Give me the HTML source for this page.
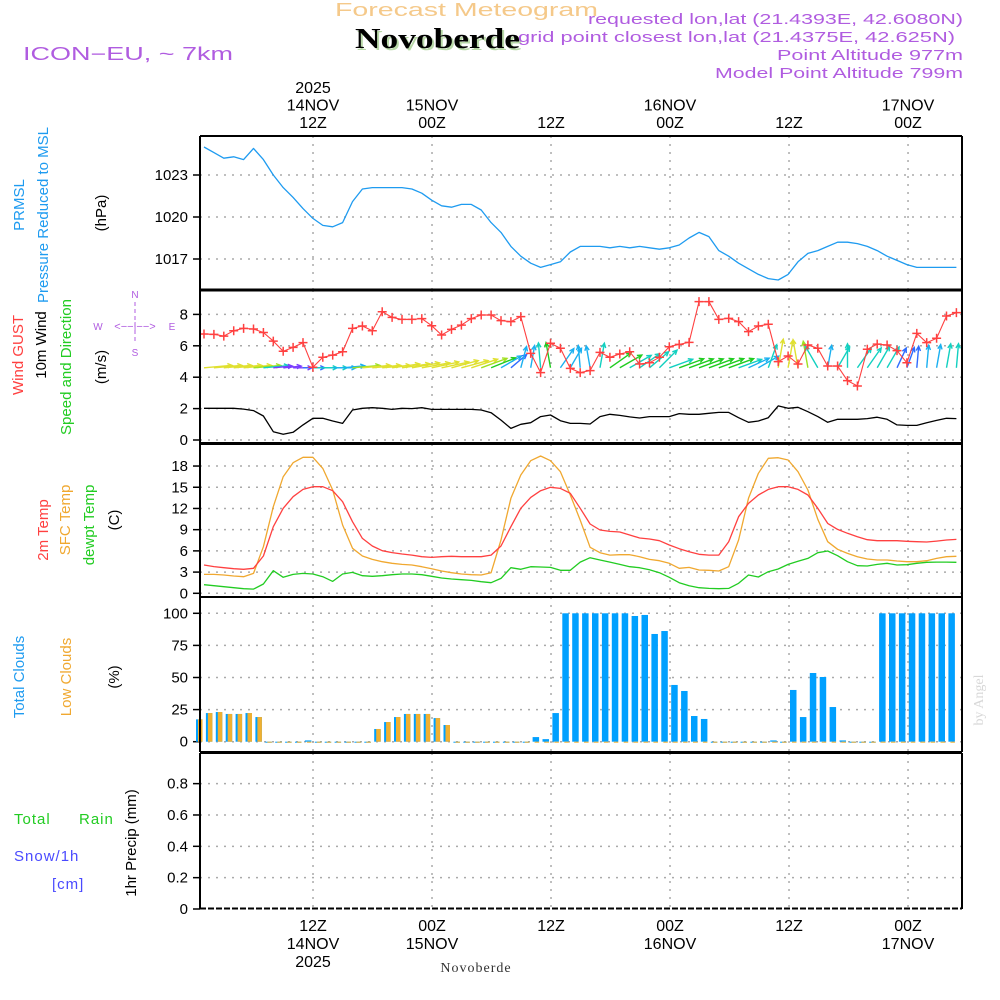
<!DOCTYPE html>
<html><head><meta charset="utf-8"><style>
html,body{margin:0;padding:0;background:#fff;}
svg{display:block;font-family:"Liberation Sans",sans-serif;}
</style></head><body>
<svg id="chart" width="1000" height="1000" viewBox="0 0 1000 1000" xmlns="http://www.w3.org/2000/svg">
<text x="335" y="16" textLength="263" lengthAdjust="spacingAndGlyphs" font-size="18" fill="#f5c98a">Forecast Meteogram</text>
<text x="357" y="50" textLength="165" lengthAdjust="spacingAndGlyphs" font-size="28" font-weight="bold" font-family="Liberation Serif,serif" fill="#b8d8a8">Novoberde</text>
<text x="355" y="48" textLength="165" lengthAdjust="spacingAndGlyphs" font-size="28" font-weight="bold" font-family="Liberation Serif,serif" fill="#000">Novoberde</text>
<g fill="#b05ce0" font-size="15">
<text x="588" y="24" textLength="375" lengthAdjust="spacingAndGlyphs">requested lon,lat (21.4393E, 42.6080N)</text>
<text x="518" y="42" textLength="437" lengthAdjust="spacingAndGlyphs">grid point closest lon,lat (21.4375E, 42.625N)</text>
<text x="777" y="60" textLength="186" lengthAdjust="spacingAndGlyphs">Point Altitude 977m</text>
<text x="715" y="78" textLength="248" lengthAdjust="spacingAndGlyphs">Model Point Altitude 799m</text>
</g>
<text x="23" y="60" textLength="210" lengthAdjust="spacingAndGlyphs" font-size="18" fill="#b05ce0">ICON−EU, ~ 7km</text>
<text transform="translate(983,700) rotate(-90)" text-anchor="middle" font-size="14" font-family="Liberation Serif,serif" fill="#d8d8d8">by Angel</text>
<text x="476" y="972" text-anchor="middle" font-size="14" font-family="Liberation Serif,serif" fill="#333" letter-spacing="1">Novoberde</text>

<g font-size="15">
<text transform="translate(24,205) rotate(-90)" text-anchor="middle" fill="#1e9bf0">PRMSL</text>
<text transform="translate(48,215) rotate(-90)" text-anchor="middle" fill="#1e9bf0">Pressure Reduced to MSL</text>
<text transform="translate(106,213) rotate(-90)" text-anchor="middle" fill="#000">(hPa)</text>
<text transform="translate(23,355) rotate(-90)" text-anchor="middle" fill="#ff4040">Wind GUST</text>
<text transform="translate(46,345) rotate(-90)" text-anchor="middle" fill="#000">10m Wind</text>
<text transform="translate(71,367) rotate(-90)" text-anchor="middle" fill="#22cc22">Speed and Direction</text>
<text transform="translate(106,367) rotate(-90)" text-anchor="middle" fill="#000">(m/s)</text>
<text transform="translate(48,530) rotate(-90)" text-anchor="middle" fill="#ff4040">2m Temp</text>
<text transform="translate(70,520) rotate(-90)" text-anchor="middle" fill="#f0a830">SFC Temp</text>
<text transform="translate(94,525) rotate(-90)" text-anchor="middle" fill="#22cc22">dewpt Temp</text>
<text transform="translate(119,520) rotate(-90)" text-anchor="middle" fill="#000">(C)</text>
<text transform="translate(24,677) rotate(-90)" text-anchor="middle" fill="#1e9bf0">Total Clouds</text>
<text transform="translate(71,677) rotate(-90)" text-anchor="middle" fill="#f0a830">Low Clouds</text>
<text transform="translate(119,677) rotate(-90)" text-anchor="middle" fill="#000">(%)</text>
<text x="14" y="824" fill="#22cc22" letter-spacing="1">Total</text>
<text x="79" y="824" fill="#22cc22" letter-spacing="1">Rain</text>
<text x="14" y="861" fill="#4a4aff" letter-spacing="1">Snow/1h</text>
<text x="52" y="889" fill="#4a4aff" letter-spacing="1">[cm]</text>
<text transform="translate(136,843) rotate(-90)" text-anchor="middle" fill="#000">1hr Precip (mm)</text>
</g>
<g fill="#b05ce0" font-size="10" text-anchor="middle">
<text x="135" y="298">N</text><text x="135" y="356">S</text>
<text x="98" y="330">W</text><text x="172" y="330">E</text>
<text x="135" y="330" font-size="11">&lt;−−|−−&gt;</text>
<line x1="135" y1="302" x2="135" y2="344" stroke="#b05ce0" stroke-dasharray="4,3"/>
</g>
<g id="plots"></g>
</svg>
<script>
const pressure=[1025.0,1024.6,1024.2,1024.3,1024.1,1024.9,1024.1,1023.0,1022.1,1021.4,1020.6,1019.9,1019.4,1019.3,1019.6,1021.1,1022.0,1022.1,1022.1,1022.1,1022.1,1022.0,1021.7,1021.2,1020.8,1020.7,1020.9,1020.9,1020.5,1019.6,1018.9,1017.9,1017.2,1016.7,1016.4,1016.6,1016.8,1017.5,1017.9,1017.9,1017.9,1017.8,1017.9,1017.8,1017.9,1017.8,1017.7,1017.8,1018.0,1018.5,1018.9,1018.6,1017.6,1017.2,1016.7,1016.3,1015.9,1015.6,1015.5,1015.9,1016.8,1017.4,1017.6,1017.9,1018.2,1018.2,1018.1,1017.9,1017.6,1017.2,1016.9,1016.6,1016.4,1016.4,1016.4,1016.4,1016.4];
const gust=[6.75,6.73,6.62,6.96,7.11,7.07,6.85,6.30,5.65,5.90,6.20,4.63,5.27,5.41,5.62,7.11,7.26,6.96,8.17,7.81,7.68,7.68,7.73,7.28,6.69,7.05,7.32,7.73,7.96,7.96,7.60,7.54,7.86,5.52,4.29,6.16,5.84,4.56,4.29,4.42,5.58,5.27,5.48,5.62,4.84,4.92,5.27,5.94,6.09,6.22,8.81,8.81,7.68,7.75,7.54,6.90,7.26,7.37,4.99,5.35,4.84,6.05,5.84,4.71,4.71,3.78,3.44,5.78,6.11,6.05,5.69,4.92,6.79,6.20,6.48,7.90,8.11];
const windSpeed=[2.02,2.02,2.02,2.02,1.97,1.87,1.53,0.53,0.36,0.49,0.96,1.38,1.38,1.21,1.06,1.91,2.02,2.06,2.02,1.95,2.02,2.0,2.06,1.95,1.95,1.95,1.95,1.95,1.91,1.74,1.27,0.74,1.0,1.1,1.49,1.59,1.23,1.06,1.06,1.02,1.49,1.64,1.57,1.47,1.40,1.49,1.49,1.49,1.68,1.64,1.64,1.70,1.76,1.76,1.42,1.13,1.21,1.42,2.17,2.02,2.08,1.80,1.49,1.13,1.32,1.32,1.32,1.36,1.45,1.32,0.96,0.93,0.93,1.10,1.25,1.38,1.36];
const windDir=[5,5,5,5,5,5,5,5,5,0,0,0,0,0,5,5,5,5,5,8,8,10,10,12,12,15,15,18,20,22,30,40,75,80,95,100,55,60,95,100,80,35,30,30,35,40,45,20,20,20,20,20,20,20,20,25,30,70,80,80,100,100,120,80,60,90,55,55,60,60,65,70,85,85,80,80,85];
const temp2m=[4.0,3.77,3.62,3.48,3.39,3.53,5.27,9.42,12.02,13.67,14.70,15.08,15.08,14.51,12.96,10.13,7.77,6.69,6.03,5.75,5.56,5.41,5.18,5.08,5.18,5.23,5.18,5.18,5.18,5.41,6.69,9.42,12.02,13.57,14.51,14.99,14.84,14.14,12.02,9.80,8.95,8.76,8.67,8.24,7.82,7.68,7.44,6.83,6.31,5.89,5.51,5.41,5.41,7.30,10.84,12.72,13.9,14.70,15.08,15.08,14.70,13.9,12.02,9.89,9.04,8.48,8.01,7.58,7.44,7.44,7.44,7.35,7.30,7.25,7.39,7.54,7.63];
const tempSfc=[2.68,2.68,2.59,2.44,2.35,2.82,6.59,12.25,16.49,18.47,19.23,19.23,17.67,14.61,9.66,6.36,5.27,4.80,4.47,4.24,4.09,4.0,3.76,3.48,3.15,2.92,2.73,2.63,2.59,2.92,7.54,13.43,16.73,18.76,19.42,18.76,17.2,13.9,10.36,6.50,5.74,5.41,5.46,5.46,5.18,4.80,4.61,4.24,3.53,3.67,3.29,3.25,3.15,3.76,7.54,13.43,16.97,19.09,19.18,18.85,17.2,14.61,10.46,7.30,6.22,5.65,5.18,4.85,4.71,4.71,4.57,4.47,4.47,4.61,4.94,5.18,5.23];
const dewpt=[1.22,1.08,0.94,0.79,0.65,0.60,1.31,3.20,2.26,2.68,2.82,2.73,2.35,1.69,2.73,2.96,2.49,2.40,2.49,2.63,2.73,2.73,2.63,2.40,2.16,2.02,1.93,1.83,1.64,1.50,2.11,3.62,3.39,3.76,3.72,3.67,3.25,3.25,4.42,5.04,4.71,4.42,4.09,3.76,3.62,3.34,2.92,2.26,1.50,1.08,0.79,0.70,0.65,0.70,1.41,2.59,2.30,3.06,3.43,4.09,4.52,4.94,5.74,5.98,5.32,4.47,3.90,3.86,4.09,4.24,4.0,4.05,4.24,4.38,4.42,4.42,4.38];
const totalClouds=[17.4,22.3,23.1,21.6,21.6,22.3,19.2,0,0,0,0,1,0,0,0,0,0,0,9.9,15.3,19.2,21.6,21.6,21.6,18.4,13,0,0,0,0,0,0,0,0,3.6,2,22.3,100,100,100,100,100,100,100,97.9,98.7,83.9,86.2,44.2,39.5,20,17.7,0,0,0,0,0,0,1,0,40.3,19.2,53.5,50.4,27,1,0,0,0,100,100,100,100,100,100,100,100];
const lowClouds=[17.4,22.3,23.1,21.6,21.6,22.3,19.2,0,0,0,0,0,0,0,0,0,0,0,9.9,15.3,19.2,21.6,21.6,21.6,18.4,13,0,0,0,0,0,0,0,0,0,0,0,0,0,0,0,0,0,0,0,0,0,0,0,0,0,0,0,0,0,0,0,0,0,0,0,0,0,0,0,0,0,0,0,0,0,0,0,0,0,0,0];
const precip=[0,0,0,0,0,0,0,0,0,0,0,0,0,0,0,0,0,0,0,0,0,0,0,0,0,0,0,0,0,0,0,0,0,0,0,0,0,0,0,0,0,0,0,0,0,0,0,0,0,0,0,0,0,0,0,0,0,0,0,0,0,0,0,0,0,0,0,0,0,0,0,0,0,0,0,0,0];
const timeTicks=[12,24,36,48,60,72];
const timeTopLabels=[["2025","14NOV","12Z"],["15NOV","00Z"],["12Z"],["16NOV","00Z"],["12Z"],["17NOV","00Z"]];
const timeBottomLabels=[["12Z","14NOV","2025"],["00Z","15NOV"],["12Z"],["00Z","16NOV"],["12Z"],["00Z","17NOV"]];
const pTicks=[1017,1020,1023];
const wTicks=[0,2,4,6,8];
const tTicks=[0,3,6,9,12,15,18];
const cTicks=[0,25,50,75,100];
const rTicks=[0,0.2,0.4,0.6,0.8];

const NS="http://www.w3.org/2000/svg";
const root=document.getElementById('plots');
function mk(tag,attrs,parent){const e=document.createElementNS(NS,tag);for(const k in attrs)e.setAttribute(k,attrs[k]);(parent||root).appendChild(e);return e;}
const XL=200,XR=962;
const xi=i=>204+i*9.9;
const xt=h=>194+h*9.917;
const panels=[
 {name:'pressure',top:136,bot:290,y:v=>217-(v-1020)*14,ticks:pTicks,fmt:v=>v},
 {name:'wind',top:290,bot:444,y:v=>440-v*15.7,ticks:wTicks,fmt:v=>v},
 {name:'temperature',top:444,bot:597,y:v=>593.3-v*7.07,ticks:tTicks,fmt:v=>v},
 {name:'clouds',top:597,bot:752,y:v=>741.7-v*1.284,ticks:cTicks,fmt:v=>v},
 {name:'precip',top:753,bot:909,y:v=>909-v*156.7,ticks:rTicks,fmt:v=>v===0?'0':v.toFixed(1)}
];
panels.forEach(p=>{
  const g=mk('g',{});
  
  
  p.ticks.forEach(t=>{
    const y=p.y(t);
    if(y>p.top+3&&y<p.bot-3){
      const gl=mk('line',{x1:XL,x2:XR,y1:y,y2:y,stroke:'#aaa','stroke-width':1.5,'stroke-dasharray':'2,6'},g);
      
      
    }
    mk('line',{x1:193,x2:200,y1:y,y2:y,stroke:'#000','stroke-width':1.5},g);
    const tx=mk('text',{x:188,y:y+5,'text-anchor':'end','font-size':15,fill:'#000'},g);
    tx.textContent=p.fmt(t);
    
    
  });
  timeTicks.forEach(h=>{
    const vl=mk('line',{x1:xt(h),x2:xt(h),y1:p.top,y2:p.bot,stroke:'#aaa','stroke-width':1.5,'stroke-dasharray':'2,6'},g);
    
    
  });
  p.g=g;
});
function line(arr,p,color,name,w){
  const d=arr.map((v,i)=>(i?'L':'M')+xi(i).toFixed(1)+','+p.y(v).toFixed(1)).join('');
  const e=mk('path',{d:d,fill:'none',stroke:color,'stroke-width':w||1.3,'stroke-linejoin':'round'},p.g);
  
  
}
line(pressure,panels[0],'#1e9bf0','pressure-line');
const pw=panels[1];
function wcol(s){return s<0.7?'#7a3cff':s<1.0?'#2f6bff':s<1.3?'#1ab0f0':s<1.55?'#12d0c0':s<1.8?'#20cc20':s<1.95?'#a0e020':'#e0e030';}
windSpeed.forEach((s,i)=>{
  const x0=xi(i),y0=pw.y(4.6),L=16+s*6,a=windDir[i]*Math.PI/180;
  const x1=x0+L*Math.cos(a),y1=y0-L*Math.sin(a);
  const c=wcol(s);
  const ar=mk('g',{stroke:c,'stroke-width':1.4,fill:'none'},pw.g);
  
  
  mk('line',{x1:x0,y1:y0,x2:x1,y2:y1},ar);
  const h1=a+Math.PI-0.45,h2=a+Math.PI+0.45;
  mk('path',{d:`M${x1+5*Math.cos(h1)},${y1-5*Math.sin(h1)}L${x1},${y1}L${x1+5*Math.cos(h2)},${y1-5*Math.sin(h2)}`},ar);
});
line(gust,pw,'#ff4040','gust-line',1.1);
gust.forEach((v,i)=>{
  const x=xi(i),y=pw.y(v);
  const m=mk('path',{d:`M${x-4.5},${y}H${x+4.5}M${x},${y-4.5}V${y+4.5}`,stroke:'#ff4040','stroke-width':1.5},pw.g);
  
  
});
line(windSpeed,pw,'#000','wind-speed-line');
line(tempSfc,panels[2],'#f0a830','sfc-temp-line');
line(temp2m,panels[2],'#ff4040','temp-2m-line');
line(dewpt,panels[2],'#22cc22','dewpoint-line');
const pc=panels[3];
totalClouds.forEach((v,i)=>{
  const x=xi(i)-5,y0=pc.y(0);
  const b=mk('rect',{x:x-3,y:pc.y(v),width:6.5,height:Math.max(y0-pc.y(v),1),fill:'#00a0ff'},pc.g);
  
  
  const lv=lowClouds[i];
  const lb=mk('rect',{x:x-1,y:pc.y(lv),width:4.5,height:Math.max(y0-pc.y(lv),1),fill:'#f0b030'},pc.g);
  
  
});
const pr=panels[4];
precip.forEach((v,i)=>{
  if(v>0){const b=mk('rect',{x:xi(i)-8,y:pr.y(v),width:6,height:pr.y(0)-pr.y(v),fill:'#22cc22'},pr.g);
  
  }
});
panels.forEach((p,k)=>{
  const f=mk('path',{d:`M${XL},${p.top}V${p.bot}M${XR},${p.top}V${p.bot}M${XL},${p.top}H${XR}`,stroke:'#000','stroke-width':2,fill:'none'},p.g);
  
  
});
mk('line',{x1:XL,x2:XR,y1:290,y2:290,stroke:'#000','stroke-width':3});
mk('line',{x1:XL,x2:XR,y1:443.5,y2:443.5,stroke:'#000','stroke-width':3});
mk('line',{x1:XL,x2:XR,y1:597,y2:597,stroke:'#000','stroke-width':2});
mk('line',{x1:XL,x2:XR,y1:752.5,y2:752.5,stroke:'#000','stroke-width':3});
mk('line',{x1:XL,x2:XR,y1:908.5,y2:908.5,stroke:'#000','stroke-width':2,'stroke-dasharray':'6,2'});
timeTicks.forEach((h,k)=>{
  const x=xt(h);
  const top=timeTopLabels[k];
  top.forEach((s,j)=>{
    const t=mk('text',{x:x,y:128-(top.length-1-j)*17.5,'text-anchor':'middle','font-size':16,fill:'#000'});
    t.textContent=s;
    
    
  });
  timeBottomLabels[k].forEach((s,j)=>{
    const t=mk('text',{x:x,y:931+j*18,'text-anchor':'middle','font-size':16,fill:'#000'});
    t.textContent=s;
    
    
  });
});
</script>
</body></html>
